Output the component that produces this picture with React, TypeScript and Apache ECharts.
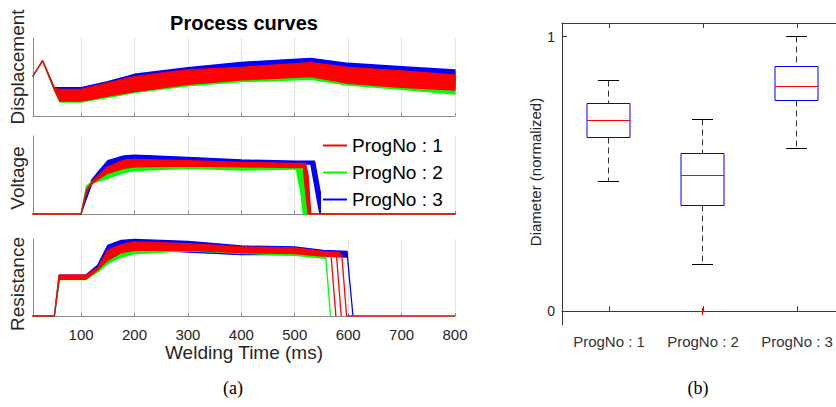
import React, { useEffect, useRef } from 'react';
import * as echarts from 'echarts';

const FONT = 'Liberation Sans, Arial, Helvetica, sans-serif';
const progNames = ['ProgNo : 1', 'ProgNo : 2', 'ProgNo : 3'];
const progColors = ['#ff0000', '#00ff00', '#0000ff'];
const timeTicks = [100, 200, 300, 400, 500, 600, 700, 800];

// ---- Displacement (normalized 0..100 of panel height) ----
const dispTime = [10, 28, 50, 60, 100, 150, 200, 300, 400, 530, 600, 700, 800];
const dispRedUpper = [51.3, 70.9, 35.5, 34.2, 34.2, 42.3, 50.4, 59.0, 62.4, 68.3, 62.4, 57.7, 52.6];
const dispRedLower = [51.3, 70.9, 34.0, 19.2, 19.2, 25.6, 31.2, 40.6, 46.2, 50.4, 41.9, 36.8, 33.3];
const dispBlueUpper = [51.3, 70.9, 36.3, 36.3, 36.3, 44.2, 53.5, 61.9, 68.8, 74.0, 67.6, 63.2, 59.0];
const dispBlueLower = [51.3, 70.9, 34.6, 21.8, 21.8, 28.2, 34.6, 43.6, 48.7, 53.8, 46.2, 41.0, 37.2];
const dispGreenUpper = [51.3, 70.9, 34.6, 28.2, 28.2, 34.6, 39.7, 48.7, 53.8, 57.7, 50.0, 44.9, 39.7];
const dispGreenLower = [51.3, 70.9, 32.7, 17.9, 17.9, 23.7, 29.9, 38.5, 44.0, 47.1, 39.7, 34.2, 28.2];

// ---- Voltage ----
const voltTime = [10, 100, 110, 120, 130, 150, 180, 200, 300, 400, 500, 503, 512, 516, 520, 525, 530, 537, 547, 558, 800];
const voltBlueUpper = [0, 0, 23.1, 43.6, 52.2, 68.3, 74.4, 75.6, 72.7, 69.2, 67.9, 67.9, 67.9, 67.9, 67.9, 67.9, 67.9, 67.9, 30.8, 0, 0];
const voltBlueLower = [0, 0, 20.0, 38.5, 46.2, 59.0, 65.4, 66.7, 66.7, 64.7, 64.1, 64.1, 64.1, 64.1, 64.1, 64.1, 64.1, 37.2, 0, 0, 0];
const voltRedUpper = [0, 0, 30.8, 41.0, 47.8, 60.6, 69.2, 70.1, 68.3, 66.3, 65.0, 65.0, 65.0, 65.0, 65.0, 50.0, 0, 0, 0, 0, 0];
const voltRedLower = [0, 0, 28.2, 38.5, 43.6, 52.2, 58.6, 60.6, 61.5, 60.6, 59.4, 59.4, 59.4, 59.4, 30.8, 0, 0, 0, 0, 0, 0];
const voltGreenUpper = [0, 0, 35.9, 41.0, 46.2, 56.4, 63.5, 64.7, 64.1, 62.8, 61.5, 61.5, 61.5, 50.0, 24.4, 0, 0, 0, 0, 0, 0];
const voltGreenLower = [0, 0, 33.3, 39.7, 41.4, 45.8, 52.9, 55.5, 58.6, 56.4, 57.7, 57.7, 24.4, 0, 0, 0, 0, 0, 0, 0, 0];

// ---- Resistance ----
const resRedTime = [10, 50, 59, 109, 131, 150, 175, 200, 300, 400, 500, 553, 585];
const resRedUpper = [0, 0, 52.9, 52.9, 62.3, 85.3, 92.6, 96.1, 93.9, 89.6, 88.3, 84.0, 82.2];
const resRedLower = [0, 0, 47.7, 47.7, 59.7, 72.3, 82.2, 85.3, 85.3, 82.2, 80.9, 77.9, 77.3];
const resGreenTime = [10, 50, 59, 109, 131, 150, 175, 200, 300, 400, 500, 553, 558];
const resGreenUpper = [0, 0, 51.9, 51.9, 61.0, 79.2, 87.0, 89.6, 87.0, 85.7, 84.4, 81.8, 80.5];
const resGreenLower = [0, 0, 47.4, 47.4, 57.1, 67.9, 76.6, 80.9, 84.5, 81.5, 78.8, 75.3, 74.7];
const resBlueTime = [10, 50, 59, 109, 131, 150, 175, 200, 300, 400, 500, 553, 598];
const resBlueUpper = [0, 0, 53.2, 53.2, 65.8, 91.8, 98.3, 99.5, 97.0, 90.9, 89.6, 85.3, 84.0];
const resBlueLower = [0, 0, 48.1, 48.1, 59.7, 75.3, 84.4, 87.0, 83.1, 79.6, 79.6, 77.9, 76.6];
const resGreenDrop = [[558, 77.0], [567, 0]];
const resRedDrops = [
  [[568, 78.5], [577, 0]],
  [[578, 79.5], [587, 0]],
  [[588, 80.5], [597, 0]],
];
const resBlueDrop = [[598, 81.5], [609, 0]];
const resRedBaseline = [[597, 0], [800, 0]];

// ---- Boxplot (diameter, normalized) ----
const boxCategories = ['ProgNo : 1', 'ProgNo : 2', 'ProgNo : 3'];
const whiskerLow = [0.474, 0.170, 0.593];
const quart1 = [0.632, 0.386, 0.769];
const medians = [0.696, 0.496, 0.818];
const quart3 = [0.756, 0.573, 0.891];
const whiskerHigh = [0.842, 0.697, 1.0];
const outliers = [[2, 0]];

const crisp = (v: number) => Math.round(v - 0.5) + 0.5;

function bandSeries(prog: number, z: number, grid: number, times: number[], upper: number[], lower: number[]) {
  const color = progColors[prog];
  return {
    type: 'custom',
    name: progNames[prog],
    xAxisIndex: grid,
    yAxisIndex: grid,
    z,
    silent: true,
    data: [[times[0], upper[0]]],
    renderItem: (_params: any, api: any) => {
      const pts: number[][] = [];
      for (let i = 0; i < times.length; i++) pts.push(api.coord([times[i], upper[i]]));
      for (let i = times.length - 1; i >= 0; i--) pts.push(api.coord([times[i], lower[i]]));
      return {
        type: 'polygon',
        shape: { points: pts },
        style: { fill: color, stroke: color, lineWidth: 1.3, lineJoin: 'round' },
      };
    },
  };
}

function lineSeries(prog: number, z: number, grid: number, pts: number[][]) {
  const color = progColors[prog];
  return {
    type: 'line',
    name: progNames[prog],
    xAxisIndex: grid,
    yAxisIndex: grid,
    z,
    silent: true,
    symbol: 'none',
    data: pts,
    lineStyle: { color, width: 1.3 },
    itemStyle: { color },
  };
}

function leftX(grid: number, labels: boolean) {
  return {
    type: 'value',
    gridIndex: grid,
    min: 10,
    max: 800,
    axisLine: { show: true, lineStyle: { color: '#8a8a8a', width: 1 } },
    axisTick: { show: true, inside: true, length: 3, customValues: timeTicks, lineStyle: { color: '#8a8a8a' } },
    axisLabel: { show: labels, customValues: timeTicks, fontSize: 15, color: '#262626', fontFamily: FONT, margin: 11 },
    splitLine: { show: true, lineStyle: { color: '#e4e4e4', width: 1 } },
    name: labels ? 'Welding Time (ms)' : '',
    nameLocation: 'middle',
    nameGap: 26,
    nameTextStyle: { fontSize: 19, color: '#262626', fontFamily: FONT },
  };
}

function leftY(grid: number) {
  return {
    type: 'value',
    gridIndex: grid,
    min: 0,
    max: 100,
    axisLine: { show: true, lineStyle: { color: '#8a8a8a', width: 1 } },
    axisTick: { show: false },
    axisLabel: { show: false },
    splitLine: { show: false },
  };
}

function buildOption() {
  const series: any[] = [];
  // line series first (legend entries come from them)
  resRedDrops.forEach((d) => series.push(lineSeries(0, 4, 2, d)));
  series.push(lineSeries(0, 4, 2, resRedBaseline));
  series.push(lineSeries(1, 3, 2, resGreenDrop));
  series.push(lineSeries(2, 2, 2, resBlueDrop));

  // bands: blue (back), green, red (front)
  series.push(bandSeries(2, 2, 0, dispTime, dispBlueUpper, dispBlueLower));
  series.push(bandSeries(1, 3, 0, dispTime, dispGreenUpper, dispGreenLower));
  series.push(bandSeries(0, 4, 0, dispTime, dispRedUpper, dispRedLower));
  series.push(bandSeries(2, 2, 1, voltTime, voltBlueUpper, voltBlueLower));
  series.push(bandSeries(1, 3, 1, voltTime, voltGreenUpper, voltGreenLower));
  series.push(bandSeries(0, 4, 1, voltTime, voltRedUpper, voltRedLower));
  series.push(bandSeries(2, 2, 2, resBlueTime, resBlueUpper, resBlueLower));
  series.push(bandSeries(1, 3, 2, resGreenTime, resGreenUpper, resGreenLower));
  series.push(bandSeries(0, 4, 2, resRedTime, resRedUpper, resRedLower));

  // boxplot
  series.push({
    type: 'custom',
    name: 'Diameter',
    xAxisIndex: 3,
    yAxisIndex: 3,
    silent: true,
    encode: { x: 0, y: [1, 2, 3, 4, 5] },
    data: boxCategories.map((_, i) => [i + 1, whiskerLow[i], quart1[i], medians[i], quart3[i], whiskerHigh[i]]),
    renderItem: (_params: any, api: any) => {
      const x = api.value(0);
      const pLow = api.coord([x, api.value(1)]);
      const pQ1 = api.coord([x, api.value(2)]);
      const pMed = api.coord([x, api.value(3)]);
      const pQ3 = api.coord([x, api.value(4)]);
      const pHigh = api.coord([x, api.value(5)]);
      const cx = crisp(pLow[0]);
      const hw = 21.5;
      const cw = 10.5;
      const dash = { stroke: '#333', lineWidth: 1, lineDash: [6, 4] };
      const solid = { stroke: '#000', lineWidth: 1 };
      return {
        type: 'group',
        children: [
          { type: 'line', shape: { x1: cx, y1: crisp(pHigh[1]), x2: cx, y2: crisp(pQ3[1]) }, style: dash },
          { type: 'line', shape: { x1: cx, y1: crisp(pQ1[1]), x2: cx, y2: crisp(pLow[1]) }, style: dash },
          { type: 'line', shape: { x1: cx - cw, y1: crisp(pHigh[1]), x2: cx + cw, y2: crisp(pHigh[1]) }, style: solid },
          { type: 'line', shape: { x1: cx - cw, y1: crisp(pLow[1]), x2: cx + cw, y2: crisp(pLow[1]) }, style: solid },
          {
            type: 'rect',
            shape: { x: cx - hw, y: crisp(pQ3[1]), width: hw * 2, height: crisp(pQ1[1]) - crisp(pQ3[1]) },
            style: { fill: 'none', stroke: '#0000ff', lineWidth: 1 },
          },
          { type: 'line', shape: { x1: cx - hw, y1: crisp(pMed[1]), x2: cx + hw, y2: crisp(pMed[1]) }, style: { stroke: '#ff0000', lineWidth: 1 } },
        ],
      };
    },
  });
  series.push({
    type: 'custom',
    name: 'Outliers',
    xAxisIndex: 3,
    yAxisIndex: 3,
    silent: true,
    z: 5,
    data: outliers,
    renderItem: (_params: any, api: any) => {
      const p = api.coord([api.value(0), api.value(1)]);
      const cx = crisp(p[0]);
      const cy = crisp(p[1]);
      const s = 3.5;
      const st = { stroke: '#ff0000', lineWidth: 1 };
      return {
        type: 'group',
        children: [
          { type: 'line', shape: { x1: cx - s, y1: cy, x2: cx + s, y2: cy }, style: st },
          { type: 'line', shape: { x1: cx, y1: cy - s, x2: cx, y2: cy + s }, style: st },
        ],
      };
    },
  });

  const rightAxisLine = { show: true, lineStyle: { color: '#3a3a3a', width: 1 } };
  const boxTicks = [1, 2, 3];

  return {
    animation: false,
    backgroundColor: '#ffffff',
    textStyle: { fontFamily: FONT },
    grid: [
      { left: 33, top: 38, width: 422, height: 78 },
      { left: 33, top: 136, width: 422, height: 78 },
      { left: 33, top: 239, width: 422, height: 77 },
      { left: 562, top: 23, right: 0, height: 302 },
    ],
    xAxis: [
      leftX(0, false),
      leftX(1, false),
      leftX(2, true),
      {
        type: 'value',
        gridIndex: 3,
        min: 0.5,
        max: 3.415,
        position: 'bottom',
        axisLine: rightAxisLine,
        axisTick: { show: true, inside: true, length: 5, customValues: boxTicks, lineStyle: { color: '#3a3a3a' } },
        axisLabel: {
          show: true,
          customValues: boxTicks,
          formatter: (v: number) => boxCategories[Math.round(v) - 1] ?? '',
          fontSize: 15,
          color: '#333',
          fontFamily: FONT,
          margin: 9,
        },
        splitLine: { show: false },
      },
      {
        type: 'value',
        gridIndex: 3,
        min: 0.5,
        max: 3.415,
        position: 'top',
        axisLine: rightAxisLine,
        axisTick: { show: true, inside: true, length: 5, customValues: boxTicks, lineStyle: { color: '#3a3a3a' } },
        axisLabel: { show: false },
        splitLine: { show: false },
      },
    ],
    yAxis: [
      leftY(0),
      leftY(1),
      leftY(2),
      {
        type: 'value',
        gridIndex: 3,
        min: -0.05,
        max: 1.05,
        axisLine: rightAxisLine,
        axisTick: { show: true, inside: true, length: 5, customValues: [0, 1], lineStyle: { color: '#3a3a3a' } },
        axisLabel: { show: true, customValues: [0, 1], fontSize: 14, color: '#262626', fontFamily: FONT, margin: 7 },
        splitLine: { show: false },
      },
    ],
    legend: {
      data: progNames.map((n) => ({ name: n, icon: 'rect' })),
      orient: 'vertical',
      left: 321,
      top: 132,
      itemWidth: 24,
      itemHeight: 2,
      itemGap: 8,
      padding: [4, 6, 4, 2],
      backgroundColor: '#ffffff',
      selectedMode: false,
      z: 10,
      textStyle: { fontSize: 19, color: '#000', fontFamily: FONT, lineHeight: 19 },
    },
    graphic: [
      {
        type: 'text', x: 244, y: 23, z: 20,
        style: { text: 'Process curves', fontSize: 20, fontWeight: 'bold', fontFamily: FONT, fill: '#000', align: 'center', verticalAlign: 'middle', textAlign: 'center', textVerticalAlign: 'middle' },
      },
      {
        type: 'text', x: 17, y: 67, rotation: Math.PI / 2, z: 20,
        style: { text: 'Displacement', fontSize: 19, fontFamily: FONT, fill: '#262626', align: 'center', verticalAlign: 'middle', textAlign: 'center', textVerticalAlign: 'middle' },
      },
      {
        type: 'text', x: 17, y: 178, rotation: Math.PI / 2, z: 20,
        style: { text: 'Voltage', fontSize: 19, fontFamily: FONT, fill: '#262626', align: 'center', verticalAlign: 'middle', textAlign: 'center', textVerticalAlign: 'middle' },
      },
      {
        type: 'text', x: 17, y: 284, rotation: Math.PI / 2, z: 20,
        style: { text: 'Resistance', fontSize: 19, fontFamily: FONT, fill: '#262626', align: 'center', verticalAlign: 'middle', textAlign: 'center', textVerticalAlign: 'middle' },
      },
      {
        type: 'text', x: 535, y: 172, rotation: Math.PI / 2, z: 20,
        style: { text: 'Diameter (normalized)', fontSize: 15, fontFamily: FONT, fill: '#262626', align: 'center', verticalAlign: 'middle', textAlign: 'center', textVerticalAlign: 'middle' },
      },
      {
        type: 'text', x: 233, y: 388, z: 20,
        style: { text: '(a)', fontSize: 18, fontFamily: 'Liberation Serif, Times New Roman, serif', fill: '#000', align: 'center', verticalAlign: 'middle', textAlign: 'center', textVerticalAlign: 'middle' },
      },
      {
        type: 'text', x: 698, y: 388, z: 20,
        style: { text: '(b)', fontSize: 18, fontFamily: 'Liberation Serif, Times New Roman, serif', fill: '#000', align: 'center', verticalAlign: 'middle', textAlign: 'center', textVerticalAlign: 'middle' },
      },
    ],
    series,
  };
}

export default function App() {
  const ref = useRef<HTMLDivElement>(null);
  useEffect(() => {
    if (!ref.current) return;
    const chart = echarts.init(ref.current, null, { renderer: 'svg' });
    chart.setOption(buildOption() as any);
    return () => chart.dispose();
  }, []);
  return (
    <div
      ref={ref}
      style={{ position: 'fixed', left: 0, top: 0, width: 836, height: 407, background: '#fff' }}
    />
  );
}
